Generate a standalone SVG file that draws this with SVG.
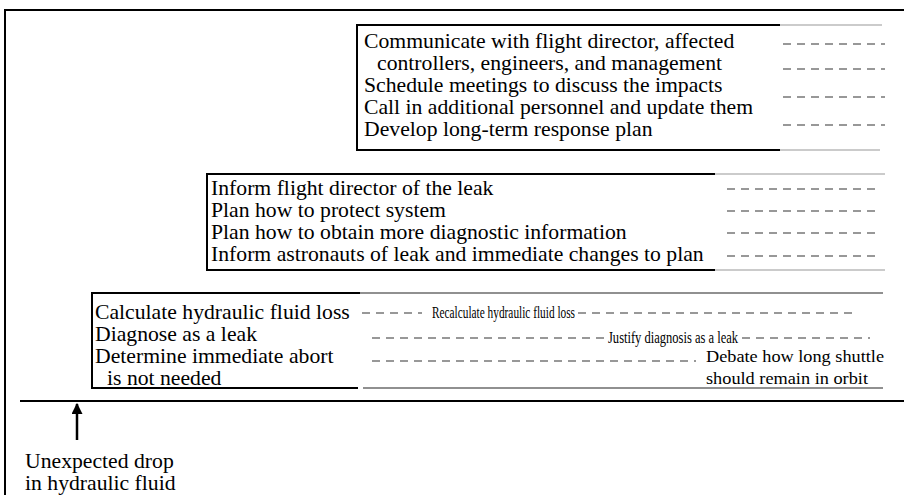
<svg xmlns="http://www.w3.org/2000/svg" width="904" height="495" viewBox="0 0 904 495">
<style>
.t{font-family:"Liberation Serif","Times New Roman",serif;font-size:21.7px;fill:#000}
.s{font-family:"Liberation Serif","Times New Roman",serif;font-size:17px;fill:#000}
.frame{stroke:#000;stroke-width:2;fill:none}
.fade{stroke:#bbb;stroke-width:1.5;fill:none}
.thin{stroke:#222;stroke-width:1.2;fill:none}
.dash{stroke:#333;stroke-width:1.2;stroke-dasharray:8 6;fill:none}
</style>
<defs>
<marker id="ah" viewBox="0 0 10 10" refX="9" refY="5" markerWidth="11" markerHeight="11" markerUnits="userSpaceOnUse" orient="auto"><path d="M0,0 L10,5 L0,10 z" fill="#000"/></marker>
</defs>
<g id="frame">
<path class="frame" d="M5,495 V10 H904"/>
<path class="frame" d="M20,401 H904"/>
</g>
<g id="box1">
<path class="frame" d="M780,25 H357 V150 H780"/>
<path class="fade" d="M780,25 H882 M780,150 H880"/>
<text class="t" x="364" y="48">Communicate with flight director, affected</text>
<text class="t" x="377" y="70">controllers, engineers, and management</text>
<text class="t" x="364" y="92">Schedule meetings to discuss the impacts</text>
<text class="t" x="364" y="114">Call in additional personnel and update them</text>
<text class="t" x="364" y="136">Develop long-term response plan</text>
</g>
<g id="box2">
<path class="frame" d="M715,174 H207 V270 H715"/>
<path class="fade" d="M715,174 H885 M715,270 H885"/>
<text class="t" x="211" y="195">Inform flight director of the leak</text>
<text class="t" x="211" y="217">Plan how to protect system</text>
<text class="t" x="211" y="239">Plan how to obtain more diagnostic information</text>
<text class="t" x="211" y="261">Inform astronauts of leak and immediate changes to plan</text>
</g>
<g id="box3">
<path class="frame" d="M360,293 H92 V388 H358"/>
<path class="thin" d="M360,293 H883 M363,388 H883"/>
<text class="t" x="95" y="319">Calculate hydraulic fluid loss</text>
<text class="t" x="95" y="341">Diagnose as a leak</text>
<text class="t" x="95" y="363">Determine immediate abort</text>
<text class="t" x="107" y="385">is not needed</text>
<text class="s" x="432" y="318" textLength="143" lengthAdjust="spacingAndGlyphs">Recalculate hydraulic fluid loss</text>
<text class="s" x="608" y="343" textLength="130" lengthAdjust="spacingAndGlyphs">Justify diagnosis as a leak</text>
<text class="s" x="706" y="362" textLength="178" lengthAdjust="spacingAndGlyphs">Debate how long shuttle</text>
<text class="s" x="706" y="384" textLength="162" lengthAdjust="spacingAndGlyphs">should remain in orbit</text>
</g>
<g id="event">
<text class="t" x="25" y="468">Unexpected drop</text>
<text class="t" x="25" y="490">in hydraulic fluid</text>
</g>
<g id="connectors">
<path class="dash" d="M783,44 H885 M783,69 H885 M783,97 H885 M783,125 H885"/>
<path class="dash" d="M727,189 H880 M727,211 H880 M727,233 H880 M727,256 H880"/>
<path class="dash" d="M362,313 H422 M578,313 H858"/>
<path class="dash" d="M372,338 H605 M742,338 H870"/>
<path class="dash" d="M372,361 H696"/>
<path d="M77,440 V404" stroke="#000" stroke-width="2.5" fill="none" marker-end="url(#ah)"/>
</g>
</svg>
